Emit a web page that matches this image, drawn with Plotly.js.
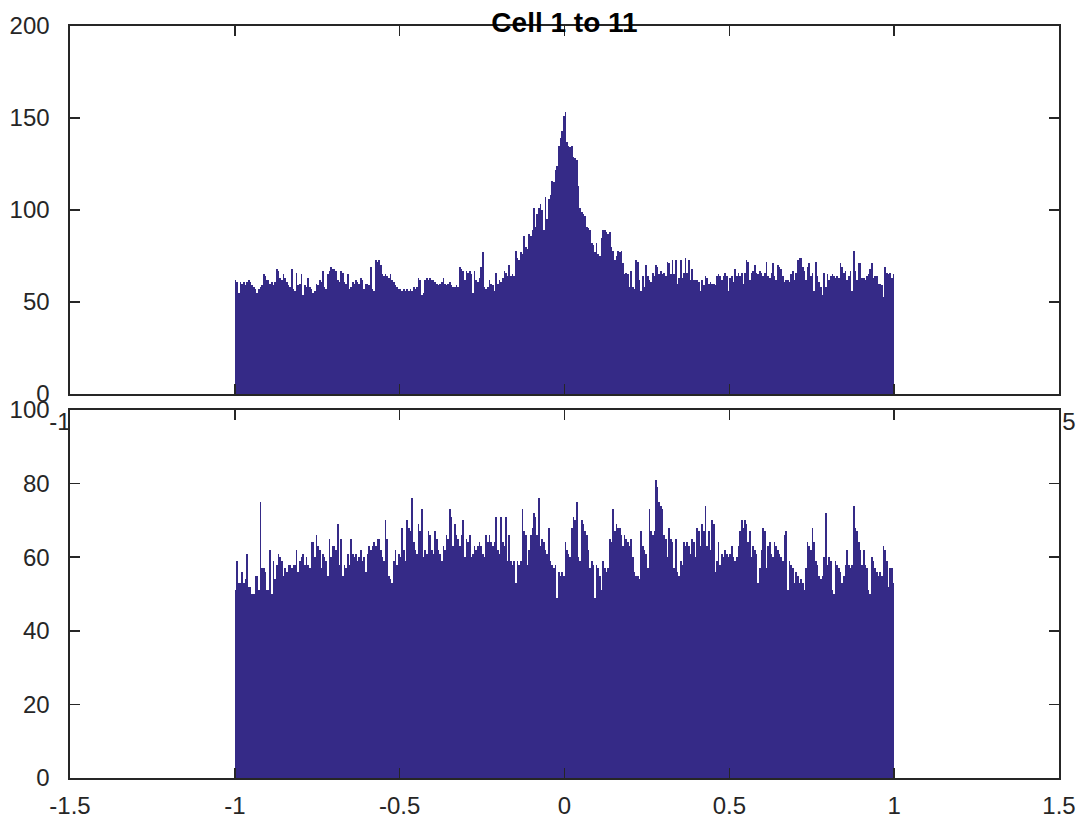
<!DOCTYPE html>
<html><head><meta charset="utf-8">
<script src="https://cdn.plot.ly/plotly-3.0.1.min.js"></script>
<style>html,body{margin:0;padding:0;background:#fff}#chart{width:1079px;height:825px}</style>
</head><body><div id="chart"></div><script>
// Histogram bins: start and width
const binStart = -1;
const binWidth = 0.005;

// Top panel counts (400 bins from -1 to 1)
const topCounts = [
62,61,55,61,60,61,59,61,62,61,59,58,57,55,57,58,59,65,64,62,
62,60,61,59,61,68,67,63,62,65,63,61,59,58,68,57,56,66,59,60,
65,54,59,58,63,58,57,55,56,60,59,62,61,67,58,57,65,67,69,68,
68,67,62,61,67,66,61,60,65,57,58,61,60,62,61,60,63,62,57,60,
60,59,69,57,56,73,72,73,70,65,64,65,64,63,65,62,61,59,58,57,
57,56,57,56,57,56,57,56,58,57,58,63,62,54,55,62,63,62,63,62,
62,61,60,59,60,61,63,60,59,60,61,59,58,58,59,58,69,68,67,62,
67,66,67,65,55,67,62,61,63,69,77,58,57,58,62,60,59,56,66,60,
62,61,63,67,66,64,70,64,65,64,78,74,73,77,76,86,80,79,87,86,
89,101,91,98,101,103,100,89,107,95,106,108,116,115,122,124,135,139,143,151,
153,137,135,134,135,129,128,127,113,101,99,98,97,91,90,89,82,81,77,82,
76,75,85,89,89,88,87,88,80,78,73,75,78,77,78,71,65,66,65,58,
67,58,57,73,72,62,56,64,58,70,64,62,61,66,64,70,69,65,67,65,
66,64,72,71,65,73,65,73,60,63,73,63,66,74,66,73,62,68,62,62,
62,61,56,62,59,64,63,60,61,60,60,59,64,65,64,62,64,66,64,56,
63,64,61,68,64,66,64,66,60,66,73,72,62,66,67,70,66,65,67,66,
64,66,72,64,63,66,71,64,62,70,69,68,64,61,62,62,61,65,67,62,
66,73,74,74,69,67,62,69,71,64,66,56,72,64,61,58,54,66,58,65,
62,64,65,64,63,64,63,71,69,66,67,62,64,67,56,78,67,62,71,71,
63,63,62,64,65,68,71,63,64,64,60,60,59,53,69,66,65,66,63,65
];

// Bottom panel counts (400 bins from -1 to 1)
const bottomCounts = [
51,59,53,53,56,53,54,61,52,52,50,50,55,55,51,75,57,57,56,51,
51,62,50,59,54,58,61,60,59,55,57,56,58,58,57,58,58,62,56,59,
60,61,58,60,58,57,64,64,60,66,63,62,57,61,60,59,55,65,60,63,
63,62,69,58,65,55,58,57,61,58,65,61,60,61,59,60,62,59,60,56,
61,63,62,63,64,63,65,65,62,60,59,70,65,55,54,53,59,62,58,61,
60,68,62,59,70,68,67,76,64,62,61,69,67,73,60,62,61,67,66,62,
61,67,65,62,61,59,63,62,66,65,73,71,63,69,66,65,63,66,70,60,
65,64,66,60,61,63,62,63,64,63,61,60,66,64,66,64,63,64,71,62,
61,71,64,63,71,59,66,59,58,59,53,59,58,59,73,67,66,58,62,66,
68,72,71,66,76,63,65,64,62,61,68,59,58,57,58,49,56,55,56,55,
64,62,61,60,68,71,70,75,60,59,70,69,67,66,62,57,59,58,49,58,
57,55,51,59,57,56,57,65,64,73,67,69,68,68,66,63,66,65,64,63,
65,60,56,55,55,54,67,63,62,61,57,73,67,66,67,81,79,75,74,73,
66,65,60,68,65,64,57,65,56,55,59,58,64,63,64,63,61,65,64,60,
68,67,63,69,67,74,63,67,62,70,69,56,59,64,58,61,60,62,61,60,
61,63,60,59,60,63,67,70,68,70,69,64,67,60,63,62,61,53,57,62,
68,67,57,63,64,61,60,64,63,62,61,60,59,66,67,51,59,58,57,53,
56,55,53,54,53,51,57,64,63,62,68,64,59,58,55,54,55,60,72,58,
60,59,51,50,59,58,57,56,53,55,58,62,58,57,58,74,68,67,64,62,
58,62,58,57,51,50,60,59,57,56,55,56,55,63,62,59,52,57,57,53
];

// Axis ticks and labels
const xRange = [-1.5, 1.5];
const xTickVals = [-1.5, -1, -0.5, 0, 0.5, 1, 1.5];
const xTickText = ['-1.5', '-1', '-0.5', '0', '0.5', '1', '1.5'];
const topYRange = [0, 200];
const topYTicks = [0, 50, 100, 150, 200];
const bottomYRange = [0, 100];
const bottomYTicks = [0, 20, 40, 60, 80, 100];
const titleText = 'Cell 1 to 11';

const barColor = '#352A87';
const axisColor = '#262626';
const fontFamily = 'Liberation Sans, Arial, Helvetica, sans-serif';

const centers = arr => arr.map((_, i) => binStart + binWidth * (i + 0.5));

const traces = [
  {type: 'bar', x: centers(topCounts), y: topCounts, width: binWidth, xaxis: 'x', yaxis: 'y',
   marker: {color: barColor, line: {width: 0}}, hoverinfo: 'x+y'},
  {type: 'bar', x: centers(bottomCounts), y: bottomCounts, width: binWidth, xaxis: 'x2', yaxis: 'y2',
   marker: {color: barColor, line: {width: 0}}, hoverinfo: 'x+y'}
];

const axisCommon = {
  showgrid: false, zeroline: false, showline: true, linecolor: axisColor, linewidth: 1.6,
  mirror: 'ticks', ticks: 'inside', ticklen: 10, tickwidth: 1.6, tickcolor: axisColor,
  tickfont: {family: fontFamily, size: 24, color: axisColor}
};

const layout = {
  width: 1079, height: 825,
  margin: {l: 70, r: 20, t: 26, b: 47, pad: 0},
  paper_bgcolor: '#fff', plot_bgcolor: '#fff',
  showlegend: false, bargap: 0,
  title: {text: titleText, font: {family: fontFamily, size: 28, color: '#000', weight: 'bold'},
          x: 0.5, xref: 'paper', y: 0.985, yref: 'container', yanchor: 'top'},
  xaxis: Object.assign({}, axisCommon, {domain: [0, 1], anchor: 'y', range: xRange,
          tickmode: 'array', tickvals: xTickVals, ticktext: xTickText, ticklabelstandoff: 6}),
  yaxis: Object.assign({}, axisCommon, {domain: [0.5106, 1], anchor: 'x', range: topYRange,
          tickmode: 'array', tickvals: topYTicks, ticklabelstandoff: 14}),
  xaxis2: Object.assign({}, axisCommon, {domain: [0, 1], anchor: 'y2', range: xRange,
          tickmode: 'array', tickvals: xTickVals, ticktext: xTickText, ticklabelstandoff: 6}),
  yaxis2: Object.assign({}, axisCommon, {domain: [0, 0.4894], anchor: 'x2', range: bottomYRange,
          tickmode: 'array', tickvals: bottomYTicks, ticklabelstandoff: 14}),
  shapes: [
    {type: 'rect', xref: 'x2', yref: 'y2', x0: xRange[0], x1: xRange[1],
     y0: bottomYRange[0], y1: bottomYRange[1], fillcolor: '#ffffff', line: {width: 0}, layer: 'below'}
  ]
};

Plotly.newPlot('chart', traces, layout, {staticPlot: true, displayModeBar: false});
</script></body></html>
